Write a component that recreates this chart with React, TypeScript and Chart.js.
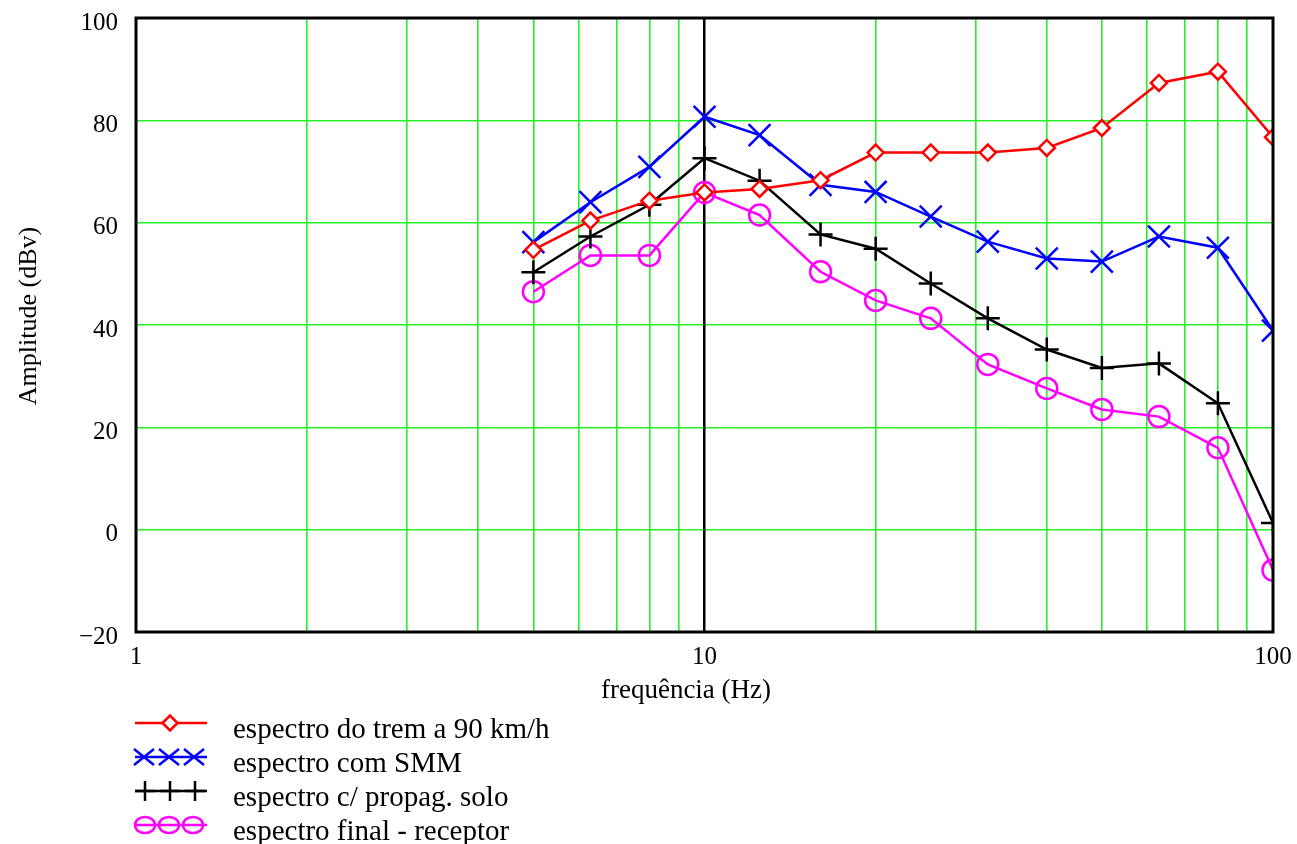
import React, { useEffect, useRef } from "react";
import { Chart, registerables } from "chart.js";

Chart.register(...registerables);

const freqs = [5, 6.3, 8, 10, 12.5, 16, 20, 25, 31.5, 40, 50, 63, 80, 100];
const trem90 = [54.7, 60.4, 64.3, 65.9, 66.6, 68.3, 73.7, 73.7, 73.7, 74.6, 78.5, 87.3, 89.5, 76.7];
const comSMM = [56.2, 64.0, 70.9, 80.7, 77.1, 67.4, 66.0, 61.2, 56.3, 53.0, 52.4, 57.3, 55.1, 38.9];
const propagSolo = [50.3, 57.3, 63.5, 72.6, 68.2, 57.7, 54.9, 48.1, 41.3, 35.2, 31.6, 32.5, 24.7, 1.3];
const finalReceptor = [46.5, 53.6, 53.6, 65.9, 61.5, 50.4, 44.8, 41.3, 32.3, 27.6, 23.5, 22.1, 16.0, -7.9];

const seriesNames = [
  "espectro do trem a 90 km/h",
  "espectro com SMM",
  "espectro c/ propag. solo",
  "espectro final - receptor",
];
const xTickValues = [1, 2, 3, 4, 5, 6, 7, 8, 9, 10, 20, 30, 40, 50, 60, 70, 80, 90, 100];
const xLabelValues = [1, 10, 100];
const yTickMin = -20;
const yTickMax = 100;
const yTickStep = 20;
const xTitle = "frequência (Hz)";
const yTitle = "Amplitude (dBv)";

const SERIF = "'Liberation Serif', 'Times New Roman', serif";
const GREEN = "rgb(40,240,40)";
const COLORS = ["#ff0000", "#0000ff", "#000000", "#ff00ff"];

function drawMarker(ctx: CanvasRenderingContext2D, kind: number, x: number, y: number) {
  ctx.beginPath();
  if (kind === 0) {
    const r = 7.5;
    ctx.moveTo(x - r, y);
    ctx.lineTo(x, y - r);
    ctx.lineTo(x + r, y);
    ctx.lineTo(x, y + r);
    ctx.closePath();
    ctx.fillStyle = "#fff";
    ctx.fill();
    ctx.stroke();
  } else if (kind === 1) {
    const r = 10;
    ctx.moveTo(x - r, y - r * 0.8);
    ctx.lineTo(x + r, y + r * 0.8);
    ctx.moveTo(x + r, y - r * 0.8);
    ctx.lineTo(x - r, y + r * 0.8);
    ctx.stroke();
  } else if (kind === 2) {
    const r = 10;
    ctx.moveTo(x - r, y);
    ctx.lineTo(x + r, y);
    ctx.moveTo(x, y - r);
    ctx.lineTo(x, y + r);
    ctx.stroke();
  } else {
    ctx.ellipse(x, y, 10, 8, 0, 0, Math.PI * 2);
    ctx.stroke();
  }
}

const decorPlugin = {
  id: "decor",
  afterDatasetsDraw(chart: any) {
    const { ctx, chartArea: a } = chart;
    ctx.save();
    ctx.strokeStyle = "#000";
    ctx.lineWidth = 3;
    ctx.strokeRect(a.left, a.top, a.right - a.left, a.bottom - a.top);
    ctx.restore();
  },
  afterDraw(chart: any) {
    const { ctx } = chart;
    ctx.save();
    ctx.fillStyle = "#000";
    ctx.font = `27px ${SERIF}`;
    ctx.textAlign = "center";
    ctx.textBaseline = "alphabetic";
    ctx.fillText(xTitle, 686, 698);
    ctx.save();
    ctx.translate(36, 316);
    ctx.rotate(-Math.PI / 2);
    ctx.font = `26px ${SERIF}`;
    ctx.fillText(yTitle, 0, 0);
    ctx.restore();
    const rowY = [723, 757, 791, 825];
    const markerXs = [[170], [144, 169, 194], [145, 170, 195], [145, 169, 193]];
    for (let i = 0; i < 4; i++) {
      const y = rowY[i];
      ctx.strokeStyle = COLORS[i];
      ctx.lineWidth = 2.5;
      ctx.beginPath();
      ctx.moveTo(135, y);
      ctx.lineTo(207, y);
      ctx.stroke();
      for (const mx of markerXs[i]) drawMarker(ctx, i, mx, y);
      ctx.fillStyle = "#000";
      ctx.font = `29px ${SERIF}`;
      ctx.textAlign = "left";
      ctx.textBaseline = "alphabetic";
      ctx.fillText(seriesNames[i], 233, y + 15);
    }
    ctx.restore();
  },
};

export default function App() {
  const ref = useRef<HTMLCanvasElement>(null);
  useEffect(() => {
    if (!ref.current) return;
    const mk = (arr: number[]) => freqs.map((f, i) => ({ x: f, y: arr[i] }));
    const common = { borderWidth: 2.5, pointBorderWidth: 2.5, fill: false, tension: 0 };
    const chart = new Chart(ref.current, {
      type: "line",
      data: {
        datasets: [
          {
            ...common,
            label: seriesNames[0],
            data: mk(trem90),
            borderColor: COLORS[0],
            pointBorderColor: COLORS[0],
            pointBackgroundColor: "#ffffff",
            pointStyle: "rectRot",
            pointRadius: 8,
          },
          {
            ...common,
            label: seriesNames[1],
            data: mk(comSMM),
            borderColor: COLORS[1],
            pointBorderColor: COLORS[1],
            pointBackgroundColor: "rgba(0,0,0,0)",
            pointStyle: "crossRot",
            pointRadius: 15.5,
          },
          {
            ...common,
            label: seriesNames[2],
            data: mk(propagSolo),
            borderColor: COLORS[2],
            pointBorderColor: COLORS[2],
            pointBackgroundColor: "rgba(0,0,0,0)",
            pointStyle: "cross",
            pointRadius: 12,
          },
          {
            ...common,
            label: seriesNames[3],
            data: mk(finalReceptor),
            borderColor: COLORS[3],
            pointBorderColor: COLORS[3],
            pointBackgroundColor: "rgba(0,0,0,0)",
            pointStyle: "circle",
            pointRadius: 10.5,
          },
        ],
      },
      options: {
        animation: false,
        responsive: false,
        devicePixelRatio: 1,
        layout: { padding: { top: 17, right: 24, left: 0, bottom: 0 } },
        plugins: { legend: { display: false }, tooltip: { enabled: false }, title: { display: false } },
        scales: {
          y: {
            type: "linear",
            min: yTickMin,
            max: yTickMax,
            afterFit: (s: any) => {
              s.width = 136;
              s.paddingTop = 0;
              s.paddingBottom = 0;
            },
            ticks: {
              stepSize: yTickStep,
              color: "#000",
              font: { family: SERIF, size: 25 },
              padding: 18,
              labelOffset: 5,
              callback: (v: any) => (Number(v) < 0 ? "\u2212" + Math.abs(Number(v)) : String(v)),
            },
            grid: { color: GREEN, lineWidth: 1.6, drawTicks: false },
            border: { display: false },
          },
          x: {
            type: "logarithmic",
            min: 1,
            max: 100,
            afterFit: (s: any) => {
              s.height = 844 - 632;
              s.paddingLeft = 0;
              s.paddingRight = 0;
            },
            afterBuildTicks: (s: any) => {
              s.ticks = xTickValues.map((v) => ({ value: v, major: xLabelValues.includes(v) }));
            },
            ticks: {
              autoSkip: false,
              maxRotation: 0,
              color: "#000",
              font: { family: SERIF, size: 25 },
              padding: 10,
              callback: (v: any) => (xLabelValues.includes(Number(v)) ? String(v) : ""),
            },
            grid: {
              color: (c: any) => (c.tick && c.tick.value === 10 ? "#000" : GREEN),
              lineWidth: (c: any) => (c.tick && c.tick.value === 10 ? 2.5 : 1.6),
              drawTicks: false,
            },
            border: { display: false },
          },
        },
      },
      plugins: [decorPlugin],
    } as any);
    return () => chart.destroy();
  }, []);
  return (
    <div style={{ position: "absolute", left: 0, top: 0, width: 1297, height: 844, background: "#fff" }}>
      <canvas ref={ref} width={1297} height={844} style={{ display: "block" }} />
    </div>
  );
}
